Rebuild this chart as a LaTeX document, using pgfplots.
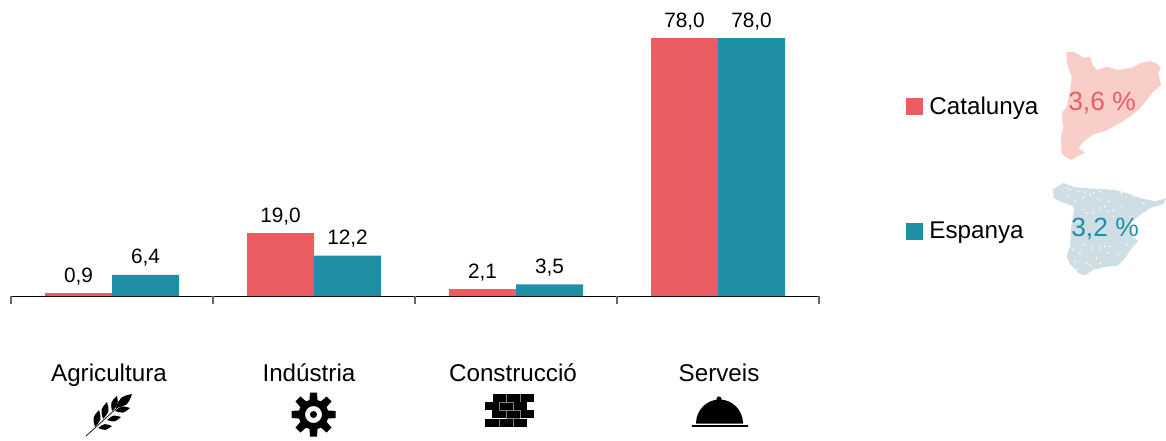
\documentclass[border=0pt]{standalone}
\usepackage{pgfplots}
\pgfplotsset{compat=1.18}
\usepackage{fontspec}
\setmainfont{Liberation Sans}
\usetikzlibrary{calc}
\definecolor{cat}{HTML}{EC5C63}
\definecolor{esp}{HTML}{1E8FA5}
\definecolor{catmap}{HTML}{F9CDC8}
\definecolor{espmap}{HTML}{CFDEE5}
\pgfplotstableread{
x cat esp
0 0.9 6.4
1 19.0 12.2
2 2.1 3.5
3 78.0 78.0
}\datatable
\newcommand{\leaf}[4]{\fill (#1,#2) .. controls ($(#1,#2)!0.5!(#3,#4)+({-0.27*(#4-#2)},{0.27*(#3-#1)})$) .. (#3,#4) .. controls ($(#1,#2)!0.5!(#3,#4)+({0.27*(#4-#2)},{-0.27*(#3-#1)})$) .. (#1,#2) -- cycle;}
\begin{document}
\begin{tikzpicture}
\begin{scope}[x=0.5pt,y=-0.5pt]
\path[use as bounding box] (0,0) rectangle (1166,440);
\begin{scope}[shift={(1050,45)},x=0.1667pt,y=-0.1667pt]
\fill[catmap] (50,20)--(75,22)--(100,38)--(120,35)--(128,60)--(140,75)--(170,65)--(205,75)--(245,68)--(270,55)--(300,48)--(320,55)--(332,68)--(325,85)--(333,120)--(310,140)--(290,165)--(270,190)--(240,215)--(200,240)--(165,258)--(130,268)--(100,290)--(85,310)--(105,322)--(85,332)--(65,345)--(45,335)--(35,325)--(32,275)--(40,250)--(35,205)--(50,185)--(60,140)--(65,95)--(55,70)--(50,45)--cycle;
\end{scope}
\begin{scope}[shift={(1050,178)},x=0.1667pt,y=-0.1667pt]
\fill[espmap] (8,35)--(40,15)--(75,28)--(130,32)--(190,35)--(230,45)--(270,60)--(315,70)--(348,60)--(340,78)--(300,90)--(265,115)--(240,135)--(240,170)--(265,190)--(245,210)--(225,240)--(205,262)--(160,268)--(130,275)--(105,292)--(85,285)--(60,258)--(50,235)--(60,205)--(62,165)--(65,135)--(72,100)--(70,85)--(30,70)--(12,60)--cycle;
\foreach \a/\b in {50/30,60/35,85/40,105/42,130/45,150/40,185/35,215/45,55/55,75/70,100/60,120/50,145/65,175/70,165/85,190/95,225/40,250/55,280/75,130/105,150/90,175/100,190/115,280/105,215/85,240/130,150/210,175/225,110/105,125/210,75/250,80/275,100/200,100/95,165/205,180/205,110/255,140/240,120/262,90/225,205/230,230/200,70/215,150/255}
  \fill[white] (\a,\b) circle (3);
\end{scope}
\end{scope}
\begin{axis}[
  at={(5.5pt,-148pt)},anchor=south west,
  scale only axis,width=404pt,height=129pt,
  xmin=-0.5,xmax=3.5,ymin=0,ymax=78,clip=false,
  axis y line=none,axis x line=bottom,axis line style={-,black,line width=0.5pt},
  ybar=0pt,bar width=33.5pt,
  xtick={-0.015,0.975,1.985,3.005},
  xticklabels={Agricultura,Indústria,Construcció,Serveis},
  major tick length=0pt,
  extra x ticks={-0.5,0.5,1.5,2.5,3.5},extra x tick labels={},
  extra x tick style={tick style={draw=black!60,line width=0.6pt},major tick length=4pt,tick align=outside},
  xticklabel style={font=\fontsize{12.1}{14}\selectfont,text=black,anchor=base,yshift=-42.5pt},
  nodes near coords,
  nodes near coords style={font=\fontsize{10.4}{12}\selectfont,text=black,anchor=south,yshift=0.6pt,
    /pgf/number format/.cd,fixed,fixed zerofill,precision=1,use comma,assume math mode=true},
  legend style={at={(1.1077,0.79)},anchor=north west,draw=none,fill=none,
    font=\fontsize{12.1}{14}\selectfont,row sep=48.5pt,inner sep=0pt,/tikz/every odd column/.append style={column sep=1pt}},
  legend cell align=left,
  legend image code/.code={\fill[#1] (-1pt,-4.25pt) rectangle (7.5pt,4.25pt);},
]
\addplot[fill=cat,draw=none] table[x=x,y=cat]{\datatable};
\addlegendentry{Catalunya}
\addplot[fill=esp,draw=none] table[x=x,y=esp]{\datatable};
\addlegendentry{Espanya}
\end{axis}
\begin{scope}[x=0.5pt,y=-0.5pt]
\node[text=cat,font=\fontsize{13.2}{15}\selectfont] at (1102,102.5) {3,6 \%};
\node[text=esp,font=\fontsize{13.2}{15}\selectfont] at (1105,229) {3,2 \%};
\begin{scope}[black]
\draw[line width=0.35pt] (86,436)--(118,407);
\leaf{116}{408}{132}{394}
\leaf{112}{411}{117}{396}
\leaf{103}{419}{107}{402}
\leaf{95}{427}{99}{410}
\leaf{115}{411}{130}{408}
\leaf{107}{420}{121}{417}
\leaf{98}{428}{112}{426}
\begin{scope}[shift={(313.5,414.5)}]
\fill[even odd rule] (0,0) circle (15) (0,0) circle (8.5);
\fill (0,0) circle (3.5);
\foreach \r in {0,45,...,315} \fill[rotate=\r] (-4.2,-12)--(-3.5,-22)--(3.5,-22)--(4.2,-12)--cycle;
\end{scope}
\begin{scope}[shift={(485,394)}]
\fill (8,0) rectangle (49,7.6);
\fill (0,8.2) rectangle (42,15.8);
\fill (7,16.4) rectangle (49,24);
\fill (0,24.8) rectangle (42,32.6);
\draw[gray,line width=0.3pt] (21,0)--(21,7.6) (35,0)--(35,7.6) (14,8.2)--(14,15.8) (28,8.2)--(28,15.8) (14,8.2)--(28,8.2) (14,15.8)--(28,15.8) (21,16.4)--(21,24) (35,16.4)--(35,24) (21,16.4)--(35,16.4) (21,24)--(35,24) (14,24.8)--(14,32.6) (28,24.8)--(28,32.6);
\end{scope}
\fill (696,423.5) arc[start angle=180,end angle=360,x radius=23.5,y radius=24] -- cycle;
\fill (719,399) circle (2.6);
\fill (692,425) rectangle (748,426.5);
\end{scope}
\end{scope}
\end{tikzpicture}
\end{document}
